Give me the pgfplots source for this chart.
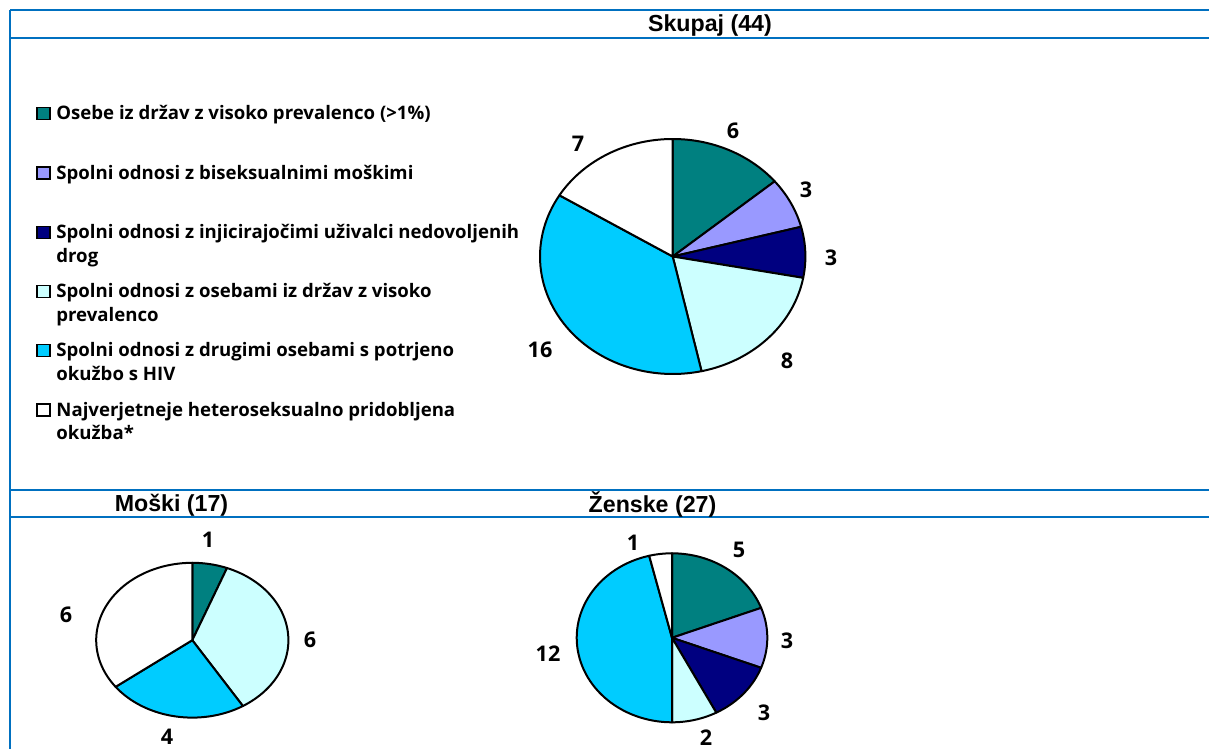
\documentclass[border=0pt]{standalone}
\usepackage{pgfplots}
\pgfplotsset{compat=1.18}
\usepackage{fontspec}
\setmainfont{Open Sans}
\newfontfamily\arialfont{Liberation Sans}

\definecolor{frameblue}{HTML}{0070C0}
\definecolor{cteal}{HTML}{008080}
\definecolor{clav}{HTML}{9999FF}
\definecolor{cnavy}{HTML}{000080}
\definecolor{cpale}{HTML}{CCFFFF}
\definecolor{ccyan}{HTML}{00CCFF}

\newcommand\pielabelfont{\fontsize{10.8}{12}\selectfont\bfseries}
\newcommand\legfont{\fontsize{9.3}{12}\selectfont\bfseries}
\newcommand\titlefont{\arialfont\fontsize{11.6}{13}\selectfont\bfseries}

\pgfplotsset{pie/.style={scale only axis, hide axis, clip=false,
  xmin=-1, xmax=1, ymin=-1, ymax=1, anchor=origin}}

% slices, clockwise from 12 o'clock: value/colour/label x/label y (label in pie radii)
\newcommand\drawpie[1]{%
  \gdef\pietotal{0}%
  \foreach \pval/\pcol/\plx/\ply in {#1}{%
    \pgfmathsetmacro\pietmp{\pietotal+\pval}\xdef\pietotal{\pietmp}}%
  \gdef\piecum{0}%
  \foreach \pval/\pcol/\plx/\ply in {#1}{%
    \pgfmathsetmacro\psa{90-360*\piecum/\pietotal}%
    \pgfmathsetmacro\psb{90-360*(\piecum+\pval)/\pietotal}%
    \pgfmathsetmacro\pietmp{\piecum+\pval}\xdef\piecum{\pietmp}%
    \ifdim\pval pt>0pt
      \edef\temp{%
        \noexpand\draw[fill=\pcol, line width=1pt, line join=round]
          (axis cs:0,0) -- plot[domain=\psa:\psb, samples=60, variable=\noexpand\pv]
          ({cos(\noexpand\pv)},{sin(\noexpand\pv)}) -- cycle;
        \noexpand\node[font=\noexpand\pielabelfont] at (axis cs:\plx,\ply) {\pval};}%
      \temp
    \fi}%
}

\begin{document}
\begin{tikzpicture}
\path[use as bounding box] (0,0) rectangle (604.5pt,-374.5pt);

\begin{scope}[x=0.5pt,y=-0.5pt]
  % frame
  \draw[frameblue, line width=1pt] (10,10) -- (1209,10);
  \draw[frameblue, line width=1pt] (10,38.5) -- (1209,38.5);
  \draw[frameblue, line width=1pt] (10,10) -- (10,749);
  \draw[frameblue, line width=1pt] (10,490) -- (1209,490);
  \draw[frameblue, line width=1pt] (10,517) -- (1209,517);
  \draw[white, line width=0.5pt] (40,518) -- (340,518);
  \draw[white, line width=0.5pt] (532,518) -- (808,518);

  % titles
  \node[anchor=base, inner sep=0, font=\titlefont] at (710,31.7) {Skupaj (44)};
  \node[anchor=base, inner sep=0, font=\titlefont] at (171.5,511.7) {Moški (17)};
  \node[anchor=base, inner sep=0, font=\titlefont] at (652.5,512) {Ženske (27)};

  % legend
  \draw[fill=cteal, line width=0.6pt] (37,107.5) rectangle (50,119.5);
  \node[anchor=base west, inner sep=0, font=\legfont] at (56,119.5) {Osebe iz držav z visoko prevalenco (>1\%)};
  \draw[fill=clav, line width=0.6pt] (37,167) rectangle (50,179);
  \node[anchor=base west, inner sep=0, font=\legfont] at (56,179) {Spolni odnosi z biseksualnimi moškimi};
  \draw[fill=cnavy, line width=0.6pt] (37,226.5) rectangle (50,238.5);
  \node[anchor=base west, inner sep=0, font=\legfont] at (56,238.5) {Spolni odnosi z injicirajočimi uživalci nedovoljenih};
  \node[anchor=base west, inner sep=0, font=\legfont] at (56,262) {drog};
  \draw[fill=cpale, line width=0.6pt] (37,285.5) rectangle (50,297.5);
  \node[anchor=base west, inner sep=0, font=\legfont] at (56,297.5) {Spolni odnosi z osebami iz držav z visoko};
  \node[anchor=base west, inner sep=0, font=\legfont] at (56,321) {prevalenco};
  \draw[fill=ccyan, line width=0.6pt] (37,344.5) rectangle (50,356.5);
  \node[anchor=base west, inner sep=0, font=\legfont] at (56,356.5) {Spolni odnosi z drugimi osebami s potrjeno};
  \node[anchor=base west, inner sep=0, font=\legfont] at (56,380) {okužbo s HIV};
  \draw[fill=white, line width=0.6pt] (37,404) rectangle (50,416);
  \node[anchor=base west, inner sep=0, font=\legfont] at (56,416) {Najverjetneje heteroseksualno pridobljena};
  \node[anchor=base west, inner sep=0, font=\legfont] at (56,439.5) {okužba*};
\end{scope}

% Skupaj
\begin{axis}[pie, at={(336.35pt,-128.25pt)}, width=132.7pt, height=117.5pt]
\drawpie{6/cteal/0.454/1.068, 3/clav/1.005/0.566, 3/cnavy/1.193/-0.013,
  8/cpale/0.861/-0.889, 16/ccyan/-1.0/-0.796, 7/white/-0.714/0.957}
\end{axis}

% Moški
\begin{axis}[pie, at={(96.15pt,-320.1pt)}, width=96.1pt, height=77.4pt]
\drawpie{1/cteal/0.163/1.295, 0/clav/0/0, 0/cnavy/0/0,
  6/cpale/1.225/0.003, 4/ccyan/-0.263/-1.251, 6/white/-1.314/0.326}
\end{axis}

% Ženske
\begin{axis}[pie, at={(336pt,-318.9pt)}, width=95.3pt, height=84.5pt]
\drawpie{5/cteal/0.703/1.039, 3/clav/1.207/-0.038, 3/cnavy/0.965/-0.890,
  2/cpale/0.357/-1.186, 12/ccyan/-1.301/-0.192, 1/white/-0.409/1.122}
\end{axis}
\end{tikzpicture}
\end{document}
